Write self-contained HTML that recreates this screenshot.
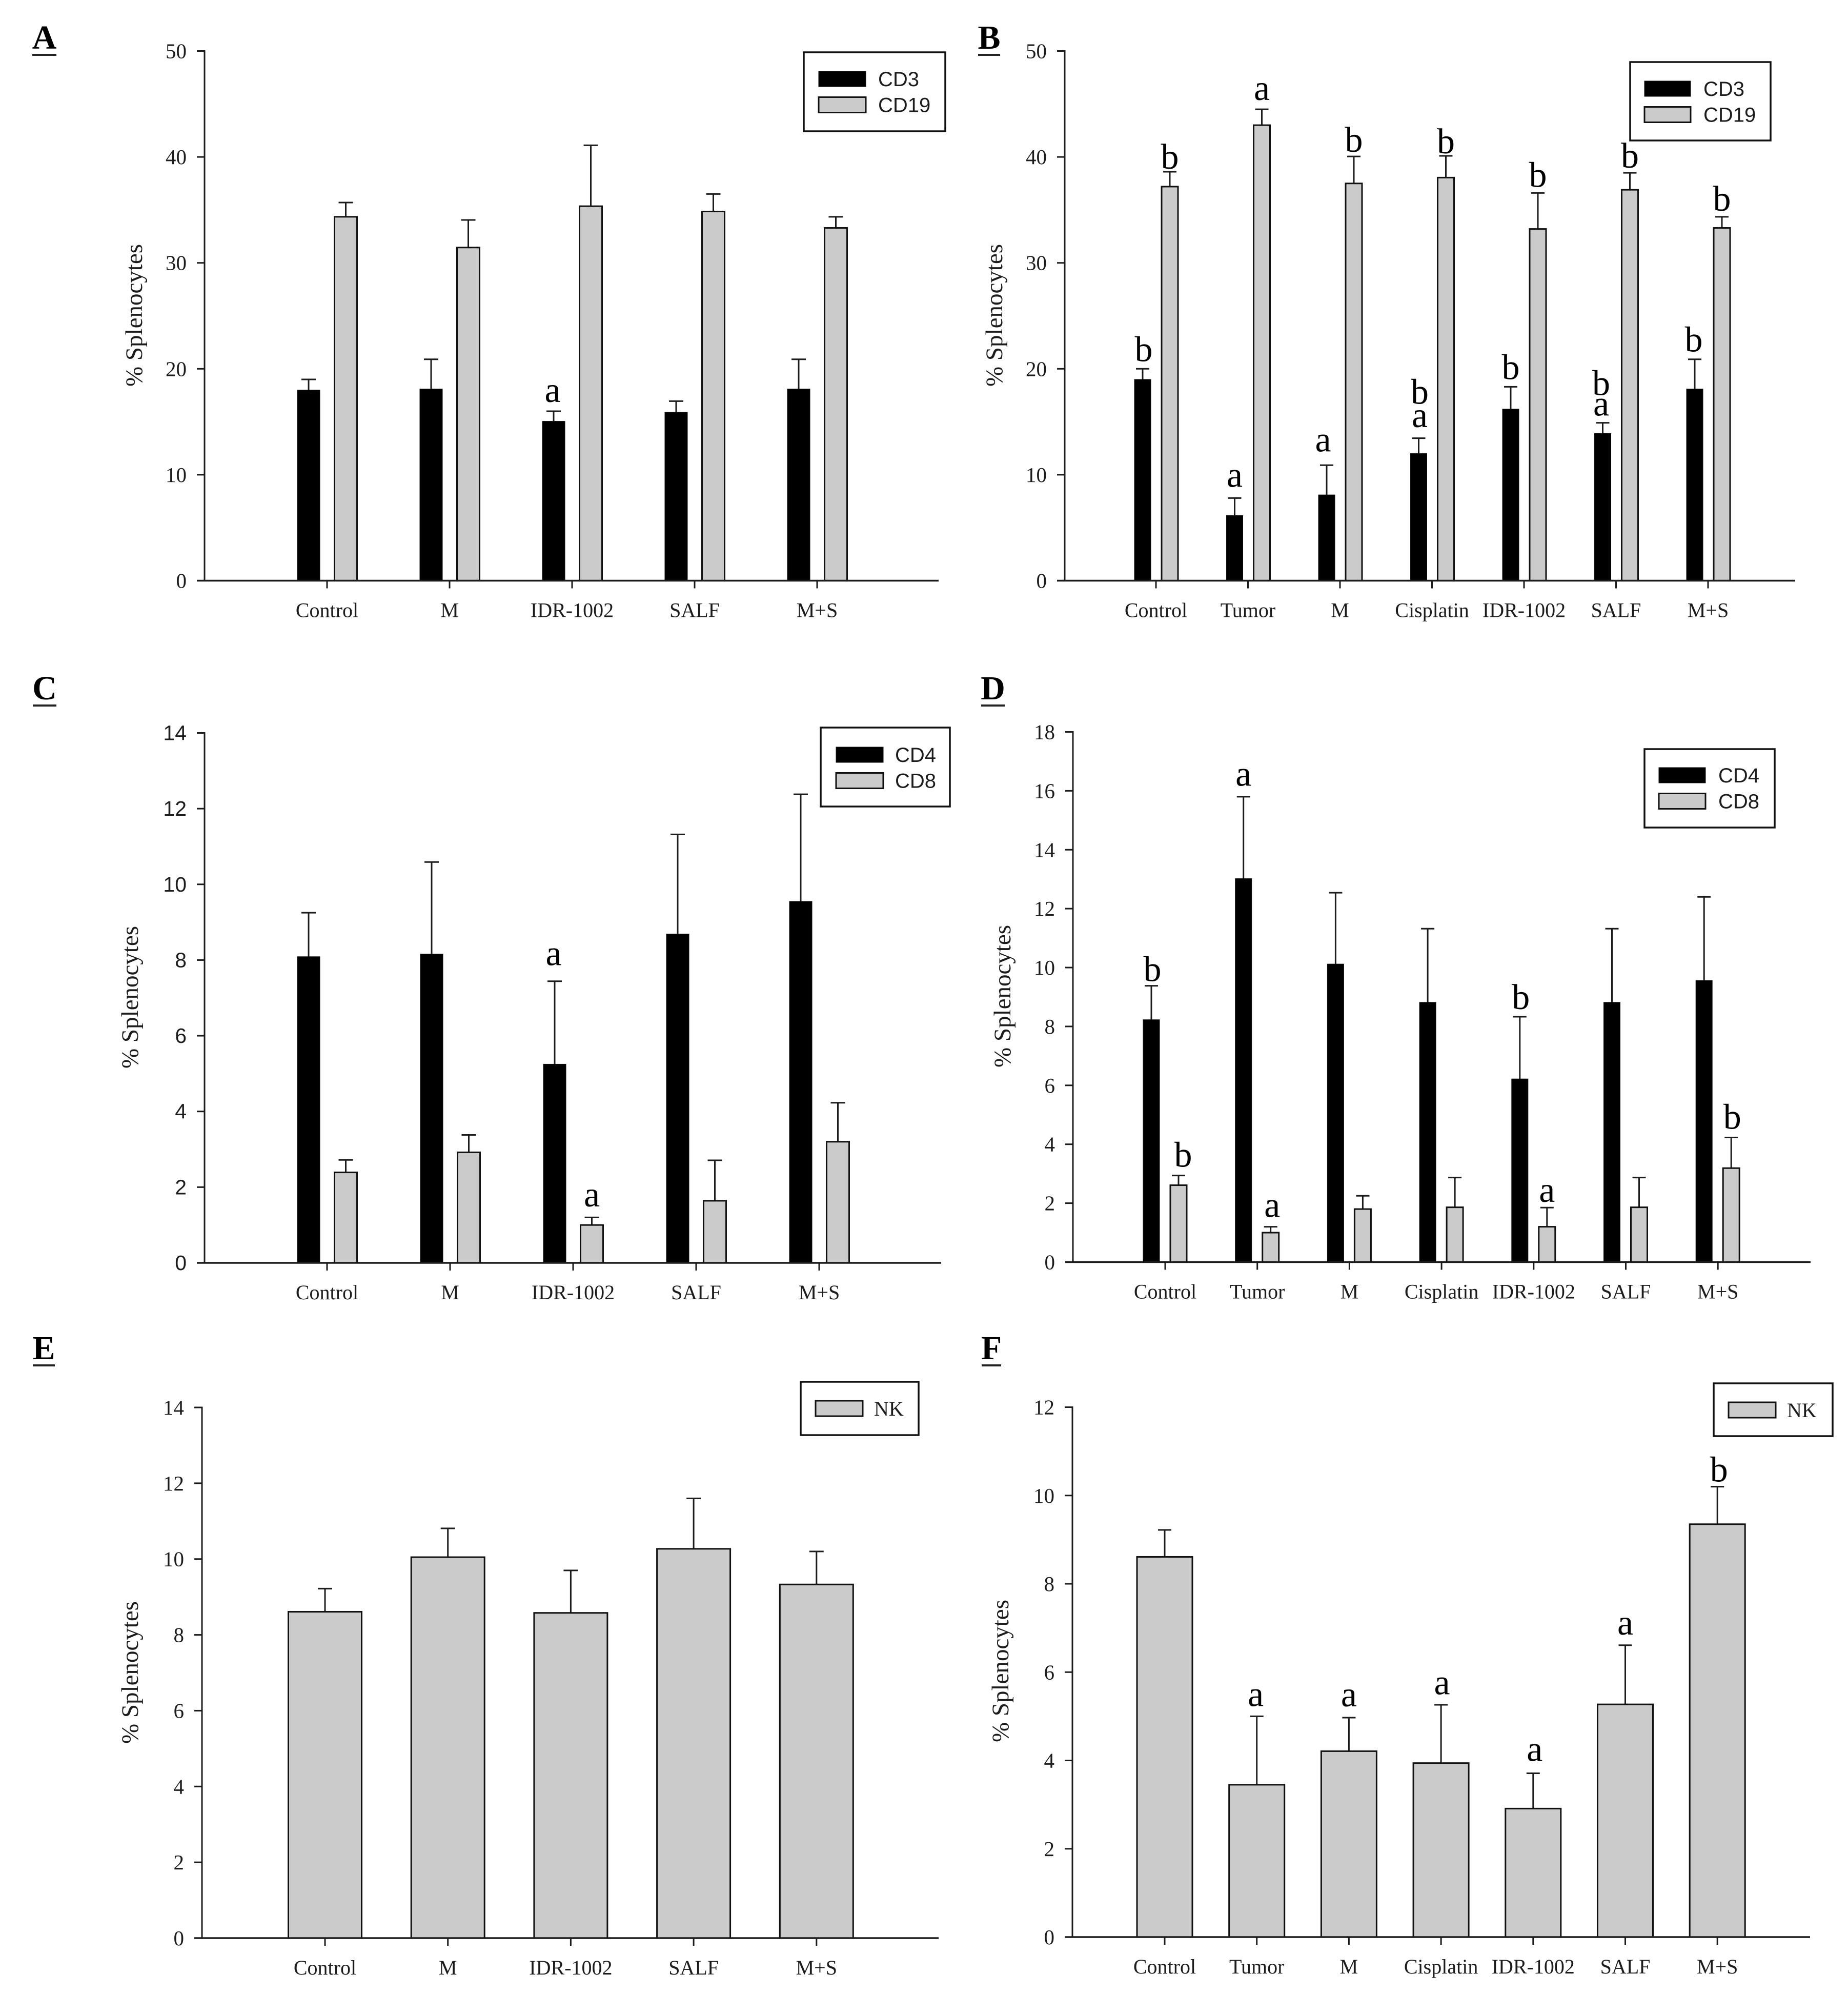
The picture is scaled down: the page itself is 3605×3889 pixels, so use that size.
<!DOCTYPE html>
<html lang="en">
<head>
<meta charset="utf-8">
<title>% Splenocytes panels A-F</title>
<style>
html,body{margin:0;padding:0;background:#fff;}
svg{display:block;}
</style>
</head>
<body>
<svg id="figure" xmlns="http://www.w3.org/2000/svg" width="3605" height="3889" viewBox="0 0 3605 3889"></svg>
<script>
// ---------- data ----------
const catsFive = ['Control', 'M', 'IDR-1002', 'SALF', 'M+S'];
const catsSeven = ['Control', 'Tumor', 'M', 'Cisplatin', 'IDR-1002', 'SALF', 'M+S'];

const ticksA = [0, 10, 20, 30, 40, 50];
const cd3A = [18.0, 18.1, 15.05, 15.9, 18.1];
const cd3ErrA = [19.0, 20.9, 16.0, 16.95, 20.9];
const cd3LettersA = ['', '', 'a', '', ''];
const cd19A = [34.35, 31.45, 35.35, 34.85, 33.3];
const cd19ErrA = [35.7, 34.05, 41.1, 36.5, 34.35];
const cd19LettersA = ['', '', '', '', ''];

const ticksB = [0, 10, 20, 30, 40, 50];
const cd3B = [19.0, 6.15, 8.1, 12.0, 16.2, 13.9, 18.1];
const cd3ErrB = [20.0, 7.8, 10.9, 13.45, 18.3, 14.9, 20.9];
const cd3LettersB = ['b', 'a', 'a', 'ab', 'b', 'ab', 'b'];
const cd19B = [37.2, 43.0, 37.5, 38.05, 33.2, 36.9, 33.3];
const cd19ErrB = [38.6, 44.5, 40.05, 40.1, 36.6, 38.5, 34.35];
const cd19LettersB = ['b', 'a', 'b', 'b', 'b', 'b', 'b'];

const ticksC = [0, 2, 4, 6, 8, 10, 12, 14];
const cd4C = [8.09, 8.16, 5.25, 8.69, 9.55];
const cd4ErrC = [9.25, 10.59, 7.44, 11.32, 12.38];
const cd4LettersC = ['', '', 'a', '', ''];
const cd8C = [2.39, 2.92, 1.0, 1.64, 3.2];
const cd8ErrC = [2.72, 3.38, 1.2, 2.71, 4.23];
const cd8LettersC = ['', '', 'a', '', ''];

const ticksD = [0, 2, 4, 6, 8, 10, 12, 14, 16, 18];
const cd4D = [8.23, 13.02, 10.12, 8.82, 6.22, 8.82, 9.56];
const cd4ErrD = [9.38, 15.8, 12.54, 11.32, 8.33, 11.32, 12.4];
const cd4LettersD = ['b', 'a', '', '', 'b', '', ''];
const cd8D = [2.61, 1.0, 1.8, 1.86, 1.2, 1.86, 3.19];
const cd8ErrD = [2.94, 1.2, 2.25, 2.87, 1.85, 2.87, 4.23];
const cd8LettersD = ['b', 'a', '', '', 'a', '', 'b'];

const ticksE = [0, 2, 4, 6, 8, 10, 12, 14];
const nkE = [8.61, 10.05, 8.58, 10.27, 9.33];
const nkErrE = [9.22, 10.81, 9.7, 11.6, 10.2];
const nkLettersE = ['', '', '', '', ''];

const ticksF = [0, 2, 4, 6, 8, 10, 12];
const nkF = [8.61, 3.45, 4.21, 3.94, 2.91, 5.27, 9.35];
const nkErrF = [9.22, 5.0, 4.97, 5.26, 3.71, 6.61, 10.2];
const nkLettersF = ['', 'a', 'a', 'a', 'a', 'a', 'b'];

// ---------- drawing ----------
const NS = 'http://www.w3.org/2000/svg';
const root = document.getElementById('figure');
const SERIF = '"Liberation Serif", serif';
const SANS = '"Liberation Sans", sans-serif';
const BLACK = '#000000';
const GRAY = '#cbcbcb';
const INK = '#1c1c1c';

// Hand placement of significance letters relative to their error cap: [dx, gap, stackGap]
const letterPlacement = {
  'A-CD3-IDR-1002': [-2, 18],
  'B-CD3-Control': [2, 15],
  'B-CD3-Tumor': [0, 22],
  'B-CD3-M': [-7, 27],
  'B-CD3-Cisplatin': [2, 21.5, 45.5],
  'B-CD3-IDR-1002': [0, 15],
  'B-CD3-SALF': [-3, 14, 40],
  'B-CD3-M+S': [-2, 15],
  'B-CD19-Control': [0, 6],
  'B-CD19-Tumor': [0, 18],
  'B-CD19-M': [0, 9],
  'B-CD19-Cisplatin': [0, 5],
  'B-CD19-IDR-1002': [0, 12],
  'B-CD19-SALF': [0, 10],
  'B-CD19-M+S': [0, 12],
  'C-CD4-IDR-1002': [-2, 31.5],
  'C-CD8-IDR-1002': [0, 21.5],
  'D-CD4-Control': [2, 9],
  'D-CD4-Tumor': [0, 21.5],
  'D-CD4-IDR-1002': [2, 15],
  'D-CD8-Control': [9, 17],
  'D-CD8-Tumor': [3, 19],
  'D-CD8-IDR-1002': [0, 11],
  'D-CD8-M+S': [2, 17],
  'F-NK-Tumor': [-2, 20],
  'F-NK-M': [0, 22],
  'F-NK-Cisplatin': [2, 20.5],
  'F-NK-IDR-1002': [3, 24],
  'F-NK-SALF': [0, 20.5],
  'F-NK-M+S': [3, 10]
};

function mk(parent, tag, name, attrs, text) {
  const el = document.createElementNS(NS, tag);
  
  
  for (const k in attrs) el.setAttribute(k, attrs[k]);
  if (text !== undefined) el.textContent = text;
  parent.appendChild(el);
  return el;
}
function line(parent, name, x1, y1, x2, y2, w) {
  return mk(parent, 'line', name, {x1: x1, y1: y1, x2: x2, y2: y2, stroke: INK, 'stroke-width': w || 3});
}
function slug(s) {
  return s.toLowerCase().replace(/[^a-z0-9]+/g, '-');
}

function drawPanel(p) {
  const g = mk(root, 'g', 'panel-' + p.id.toLowerCase(), {});
  const yScale = v => p.y0 - (v / p.max) * (p.y0 - p.yTop);
  const xScale = i => p.x0 + i * p.step;

  // panel letter
  mk(g, 'text', 'panel-label-' + p.id.toLowerCase(), {
    x: (p.ulL + p.ulR) / 2, y: p.labelY + 2, 'font-family': SERIF, 'font-size': 66, 'font-weight': 'bold',
    'text-anchor': 'middle', fill: '#000'
  }, p.id);
  mk(g, 'rect', 'panel-label-underline', {x: p.ulL, y: p.labelY + 12, width: p.ulR - p.ulL, height: 4, fill: '#222'});

  // bars, error bars, letters
  p.series.forEach(s => {
    p.cats.forEach((c, i) => {
      const cx = xScale(i) + s.offset;
      const base = slug(s.name) + '-' + slug(c);
      const top = yScale(s.values[i]);
      const errTop = yScale(s.errors[i]);
      line(g, 'error-bar-' + base, cx, top, cx, errTop, 3);
      line(g, 'error-cap-' + base, cx - p.cap, errTop, cx + p.cap, errTop, 3);
      mk(g, 'rect', 'bar-' + base, {
        x: cx - p.barW / 2, y: top, width: p.barW, height: p.y0 - top,
        fill: s.fill, stroke: '#111', 'stroke-width': s.fill === BLACK ? 1 : 3
      });
      const letters = s.letters[i];
      const place = letterPlacement[p.id + '-' + s.name + '-' + c] || [0, 16, 48];
      let by = errTop - place[1];
      for (let k = 0; k < letters.length; k++) {
        const ch = letters[k];
        if (k > 0) by -= place[2] || 48;
        mk(g, 'text', 'significance-' + ch + '-' + base, {
          x: cx + place[0], y: by, 'font-family': SERIF, 'font-size': 70, 'text-anchor': 'middle', fill: '#000'
        }, ch);
      }
    });
  });

  // axes
  line(g, 'y-axis', p.axisX, p.yTop - 1.5, p.axisX, p.y0, 3);
  line(g, 'x-axis', p.axisX - 15, p.y0, p.axisEnd, p.y0, 3.5);
  p.ticks.forEach(t => {
    const y = yScale(t);
    line(g, 'y-tick-' + t, p.axisX - 15, y, p.axisX, y, 3);
    mk(g, 'text', 'y-tick-label-' + t, {
      x: p.axisX - 35, y: y + 14, 'font-family': p.tickFont, 'font-size': 41, 'text-anchor': 'end', fill: INK
    }, String(t));
  });
  p.cats.forEach((c, i) => {
    const x = xScale(i);
    line(g, 'x-tick-' + slug(c), x, p.y0, x, p.y0 + 15, 3);
    mk(g, 'text', 'x-tick-label-' + slug(c), {
      x: x, y: p.y0 + 71, 'font-family': SERIF, 'font-size': 40, 'text-anchor': 'middle', fill: INK
    }, c);
  });
  mk(g, 'text', 'y-axis-title', {
    transform: 'translate(' + p.titleX + ',' + p.titleY + ') rotate(-90)',
    'font-family': SERIF, 'font-size': 47, 'text-anchor': 'middle', fill: INK
  }, '% Splenocytes');

  // legend
  const L = p.legend;
  const lg = mk(g, 'g', 'legend', {});
  mk(lg, 'rect', 'legend-box', {x: L.x, y: L.y, width: L.w, height: L.h, fill: '#fff', stroke: '#111', 'stroke-width': 3.5});
  p.series.forEach((s, i) => {
    const sy = L.swatchY + i * 50.5;
    mk(lg, 'rect', 'legend-swatch-' + slug(s.name), {
      x: L.swatchX, y: sy, width: L.swatchW, height: 30, fill: s.fill, stroke: '#111', 'stroke-width': s.fill === BLACK ? 1 : 3
    });
    mk(lg, 'text', 'legend-label-' + slug(s.name), {
      x: L.textX, y: sy + 29, 'font-family': L.font, 'font-size': 40, fill: INK
    }, s.name);
  });
}

drawPanel({
  id: 'A', cats: catsFive, ticks: ticksA, max: 50, y0: 1132.5, yTop: 99.5, axisX: 399, axisEnd: 1831,
  x0: 638, step: 239, barW: 44, cap: 14, tickFont: SERIF, ulL: 63, ulR: 110, labelY: 93, titleX: 277, titleY: 615,
  series: [
    {name: 'CD3', fill: BLACK, offset: -36, values: cd3A, errors: cd3ErrA, letters: cd3LettersA},
    {name: 'CD19', fill: GRAY, offset: 36.5, values: cd19A, errors: cd19ErrA, letters: cd19LettersA}
  ],
  legend: {x: 1568, y: 102, w: 276, h: 154, swatchX: 1597, swatchW: 92, swatchY: 139, textX: 1713, font: SANS}
});

drawPanel({
  id: 'B', cats: catsSeven, ticks: ticksB, max: 50, y0: 1132.5, yTop: 99.5, axisX: 2077, axisEnd: 3502,
  x0: 2255, step: 179.5, barW: 32, cap: 13, tickFont: SERIF, ulL: 1908, ulR: 1951, labelY: 93, titleX: 1955, titleY: 615,
  series: [
    {name: 'CD3', fill: BLACK, offset: -26, values: cd3B, errors: cd3ErrB, letters: cd3LettersB},
    {name: 'CD19', fill: GRAY, offset: 27, values: cd19B, errors: cd19ErrB, letters: cd19LettersB}
  ],
  legend: {x: 3180, y: 121, w: 274, h: 153, swatchX: 3208, swatchW: 90, swatchY: 158, textX: 3323, font: SANS}
});

drawPanel({
  id: 'C', cats: catsFive, ticks: ticksC, max: 14, y0: 2463, yTop: 1429.5, axisX: 399, axisEnd: 1836,
  x0: 638, step: 240, barW: 44, cap: 14, tickFont: SANS, ulL: 64, ulR: 110, labelY: 1362, titleX: 269, titleY: 1945,
  series: [
    {name: 'CD4', fill: BLACK, offset: -36, values: cd4C, errors: cd4ErrC, letters: cd4LettersC},
    {name: 'CD8', fill: GRAY, offset: 36.5, values: cd8C, errors: cd8ErrC, letters: cd8LettersC}
  ],
  legend: {x: 1601, y: 1419, w: 252, h: 154, swatchX: 1631, swatchW: 92, swatchY: 1457, textX: 1746, font: SANS}
});

drawPanel({
  id: 'D', cats: catsSeven, ticks: ticksD, max: 18, y0: 2461.5, yTop: 1427.5, axisX: 2093, axisEnd: 3532,
  x0: 2273, step: 179.7, barW: 32, cap: 13, tickFont: SERIF, ulL: 1914, ulR: 1960, labelY: 1362, titleX: 1971, titleY: 1943,
  series: [
    {name: 'CD4', fill: BLACK, offset: -27, values: cd4D, errors: cd4ErrD, letters: cd4LettersD},
    {name: 'CD8', fill: GRAY, offset: 26, values: cd8D, errors: cd8ErrD, letters: cd8LettersD}
  ],
  legend: {x: 3208, y: 1461, w: 254, h: 153, swatchX: 3236, swatchW: 91, swatchY: 1497, textX: 3352, font: SANS}
});

drawPanel({
  id: 'E', cats: catsFive, ticks: ticksE, max: 14, y0: 3780, yTop: 2745, axisX: 394, axisEnd: 1831,
  x0: 634, step: 239.7, barW: 143, cap: 14, tickFont: SERIF, ulL: 64, ulR: 107, labelY: 2649, titleX: 269, titleY: 3262,
  series: [
    {name: 'NK', fill: GRAY, offset: 0, values: nkE, errors: nkErrE, letters: nkLettersE}
  ],
  legend: {x: 1562, y: 2695, w: 230, h: 104, swatchX: 1591, swatchW: 92, swatchY: 2732, textX: 1705, font: SERIF}
});

drawPanel({
  id: 'F', cats: catsSeven, ticks: ticksF, max: 12, y0: 3778, yTop: 2744.5, axisX: 2092, axisEnd: 3531,
  x0: 2272, step: 179.7, barW: 108, cap: 13, tickFont: SERIF, ulL: 1915, ulR: 1953, labelY: 2649, titleX: 1967, titleY: 3259,
  series: [
    {name: 'NK', fill: GRAY, offset: 0, values: nkF, errors: nkErrF, letters: nkLettersF}
  ],
  legend: {x: 3343, y: 2698, w: 232, h: 103, swatchX: 3372, swatchW: 92, swatchY: 2735, textX: 3486, font: SERIF}
});
</script>
</body>
</html>
